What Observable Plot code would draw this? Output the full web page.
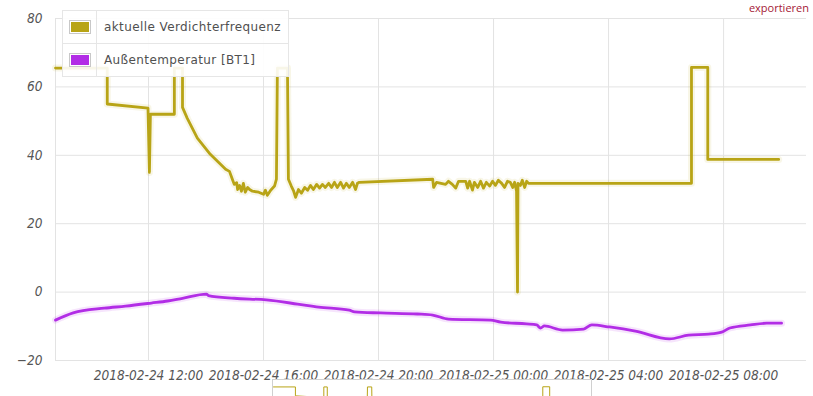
<!DOCTYPE html>
<html><head><meta charset="utf-8">
<script src="https://cdn.jsdelivr.net/npm/d3@7"></script>
<script src="https://cdn.jsdelivr.net/npm/@observablehq/plot@0.6"></script>
<style>
html,body{margin:0;padding:0;background:#fff}
body{width:813px;height:396px;position:relative;overflow:hidden;font-family:"Liberation Sans",Arial,sans-serif}
#chart{position:absolute;left:0;top:0}
#legend{position:absolute;left:62px;top:10px;width:225px;border:1px solid #e6e6e6;background:rgba(255,255,255,0.9)}
#legend .row{display:flex;align-items:center;height:32px;border-bottom:1px solid #e6e6e6}
#legend .row:last-child{border-bottom:none}
#legend .sw{width:34px;height:100%;display:flex;align-items:center;justify-content:center;border-right:1px solid #e6e6e6;box-sizing:border-box}
#legend .sw span{display:block;width:20px;height:12px;border:1px solid #c8c8c8;box-shadow:inset 0 0 0 1px #fff}
#legend .tx{padding-left:7px;font-family:"DejaVu Sans",sans-serif;font-size:12px;letter-spacing:0.4px;color:#505050}
#nav{position:absolute;left:272px;top:379px;width:318px;height:40px;border:1px solid #d0d0d0;background:#fff;overflow:hidden}
#export{position:absolute;right:4px;top:1px;font-size:11px;line-height:13px;color:#a52035;font-family:"Open Sans",sans-serif;white-space:nowrap}
</style></head><body>
<div id="chart"></div>
<div id="legend"></div>
<div id="nav"></div>
<div id="export">exportieren</div>
<script>
const seriesNames = ["aktuelle Verdichterfrequenz", "Außentemperatur [BT1]"];
const seriesColors = ["#b8a416", "#b22de6"];

const freqTimes = [
"2018-02-24 08:46","2018-02-24 10:34","2018-02-24 10:34","2018-02-24 11:59","2018-02-24 12:02","2018-02-24 12:04",
"2018-02-24 12:54","2018-02-24 12:54","2018-02-24 13:11","2018-02-24 13:11","2018-02-24 13:21","2018-02-24 13:42",
"2018-02-24 14:09","2018-02-24 14:41","2018-02-24 14:49","2018-02-24 14:55","2018-02-24 14:59","2018-02-24 15:04",
"2018-02-24 15:06","2018-02-24 15:10","2018-02-24 15:14","2018-02-24 15:18","2018-02-24 15:22","2018-02-24 15:27",
"2018-02-24 15:31","2018-02-24 15:37","2018-02-24 15:50","2018-02-24 16:00","2018-02-24 16:04","2018-02-24 16:08",
"2018-02-24 16:15","2018-02-24 16:23","2018-02-24 16:27","2018-02-24 16:29","2018-02-24 16:50","2018-02-24 16:52",
"2018-02-24 16:58","2018-02-24 17:03","2018-02-24 17:07","2018-02-24 17:13","2018-02-24 17:19","2018-02-24 17:26",
"2018-02-24 17:32","2018-02-24 17:38","2018-02-24 17:44","2018-02-24 17:51","2018-02-24 17:57","2018-02-24 18:03",
"2018-02-24 18:09","2018-02-24 18:16","2018-02-24 18:22","2018-02-24 18:28","2018-02-24 18:34","2018-02-24 18:41",
"2018-02-24 18:47","2018-02-24 18:53","2018-02-24 18:59","2018-02-24 19:06","2018-02-24 19:12","2018-02-24 19:16",
"2018-02-24 19:20","2018-02-24 21:53","2018-02-24 21:55","2018-02-24 22:01","2018-02-24 22:20","2018-02-24 22:26",
"2018-02-24 22:34","2018-02-24 22:41","2018-02-24 22:47","2018-02-24 23:02","2018-02-24 23:06","2018-02-24 23:10",
"2018-02-24 23:16","2018-02-24 23:20","2018-02-24 23:27","2018-02-24 23:33","2018-02-24 23:39","2018-02-24 23:45",
"2018-02-24 23:52","2018-02-24 23:58","2018-02-25 00:04","2018-02-25 00:10","2018-02-25 00:17","2018-02-25 00:23",
"2018-02-25 00:29","2018-02-25 00:35","2018-02-25 00:40","2018-02-25 00:44","2018-02-25 00:48","2018-02-25 00:50",
"2018-02-25 00:51","2018-02-25 00:56","2018-02-25 01:00","2018-02-25 01:05","2018-02-25 01:09","2018-02-25 01:13",
"2018-02-25 06:53","2018-02-25 06:53","2018-02-25 07:27","2018-02-25 07:27","2018-02-25 09:55"
];
const freqValues = [
65.5,65.5,55,53.8,35,52,
52,65.5,65.5,54,50.8,45,
40.3,35.9,35.3,33,31.5,32,
30,31.2,29.5,31.8,29.2,30.6,
30,29.5,29.2,28.6,29.8,28.3,
29.8,31,33,65.5,65.5,33,
31,29.5,27.7,30,28.9,30.6,
29.8,31.2,30,31.5,30.4,31.5,
30.6,31.8,30.6,32.1,30.6,32.1,
30.4,31.8,30.6,32.1,30,31.8,
32.1,33,30.6,32.1,31.5,32.4,
31.5,30.4,32.4,32.4,30.4,32.4,
29.8,32.1,30.6,32.4,30.4,32.1,
31,32.4,31.2,32.7,31.8,30.6,
32.4,32.1,30.6,32.1,29.5,0,
31.8,31.2,32.7,30.6,32.4,31.8,
31.8,65.7,65.7,38.8,38.8
];

const tempTimes = [
"2018-02-24 08:46","2018-02-24 09:23","2018-02-24 10:28","2018-02-24 11:12","2018-02-24 12:06","2018-02-24 12:40",
"2018-02-24 13:11","2018-02-24 14:01","2018-02-24 14:05","2018-02-24 14:59","2018-02-24 16:06","2018-02-24 17:11",
"2018-02-24 17:55","2018-02-24 18:59","2018-02-24 19:10","2018-02-24 20:04","2018-02-24 21:21","2018-02-24 21:53",
"2018-02-24 22:26","2018-02-24 23:54","2018-02-25 00:15","2018-02-25 01:09","2018-02-25 01:30","2018-02-25 01:38",
"2018-02-25 01:46","2018-02-25 02:24","2018-02-25 03:08","2018-02-25 03:25","2018-02-25 04:02","2018-02-25 04:56",
"2018-02-25 06:07","2018-02-25 06:47","2018-02-25 07:29","2018-02-25 07:56","2018-02-25 08:13","2018-02-25 08:56",
"2018-02-25 09:30","2018-02-25 10:01"
];
const tempValues = [
-8.2,-6.1,-4.7,-4.1,-3.2,-2.6,
-1.8,-0.6,-1.0,-1.8,-2.3,-3.5,
-4.4,-5.3,-5.8,-6.1,-6.4,-6.7,
-7.9,-8.2,-8.8,-9.3,-9.6,-10.5,
-9.9,-11.1,-10.8,-9.6,-10.2,-11.4,
-13.7,-12.6,-12.3,-11.7,-10.5,-9.6,
-9.1,-9.1
];

const xTickLabels = ["2018-02-24 12:00","2018-02-24 16:00","2018-02-24 20:00","2018-02-25 00:00","2018-02-25 04:00","2018-02-25 08:00"];
const yTicks = [-20, 0, 20, 40, 60, 80];
const xStart = "2018-02-24 08:46", xEnd = "2018-02-25 10:53";

const parse = d3.utcParse("%Y-%m-%d %H:%M");
const freq = freqTimes.map((t, i) => ({t: parse(t), v: freqValues[i]}));
const temp = tempTimes.map((t, i) => ({t: parse(t), v: tempValues[i]}));
const xTicks = xTickLabels.map(parse);
const fmt = d3.utcFormat("%Y-%m-%d %H:%M");

const chart = Plot.plot({
  width: 813, height: 396,
  marginTop: 18, marginBottom: 36, marginLeft: 55, marginRight: 7,
  style: {fontFamily: "'DejaVu Sans Condensed', 'DejaVu Sans', sans-serif", fontSize: "13.5px", fontStyle: "oblique", color: "#555", background: "transparent"},
  x: {type: "utc", domain: [parse(xStart), parse(xEnd)], ticks: xTicks, tickFormat: fmt, tickSize: 0, tickPadding: 10, label: null},
  y: {domain: [-20, 80], ticks: yTicks, tickSize: 0, tickPadding: 13, label: null},
  marks: [
    Plot.ruleY(yTicks, {stroke: "#e3e3e3", strokeWidth: 1}),
    Plot.ruleX(xTicks, {stroke: "#e3e3e3", strokeWidth: 1}),
    Plot.ruleX([parse(xStart)], {stroke: "#e3e3e3"}),
    Plot.line(freq, {x: "t", y: "v", stroke: seriesColors[0], strokeWidth: 7, strokeOpacity: 0.1}),
    Plot.line(freq, {x: "t", y: "v", stroke: seriesColors[0], strokeWidth: 2.8}),
    Plot.line(temp, {x: "t", y: "v", stroke: seriesColors[1], strokeWidth: 7, strokeOpacity: 0.12, curve: "monotone-x"}),
    Plot.line(temp, {x: "t", y: "v", stroke: seriesColors[1], strokeWidth: 2.8, curve: "monotone-x"})
  ]
});
chart.querySelectorAll("text").forEach(t => { t.style.fontStyle = "oblique"; t.setAttribute("font-style", "oblique"); });
document.getElementById("chart").appendChild(chart);

const legend = document.getElementById("legend");
seriesNames.forEach((n, i) => {
  const row = document.createElement("div"); row.className = "row";
  const sw = document.createElement("div"); sw.className = "sw";
  const s = document.createElement("span"); s.style.background = seriesColors[i]; sw.appendChild(s);
  const tx = document.createElement("div"); tx.className = "tx"; tx.textContent = n;
  row.appendChild(sw); row.appendChild(tx); legend.appendChild(row);
});

const nav = Plot.plot({
  width: 318, height: 70,
  marginTop: 6, marginBottom: 8, marginLeft: 0, marginRight: 0,
  x: {type: "utc", domain: [parse(xStart), parse(xEnd)], axis: null},
  y: {domain: [0, 66], axis: null},
  marks: [Plot.line(freq, {x: "t", y: "v", stroke: seriesColors[0], strokeWidth: 1})]
});
document.getElementById("nav").appendChild(nav);
</script>
</body></html>
